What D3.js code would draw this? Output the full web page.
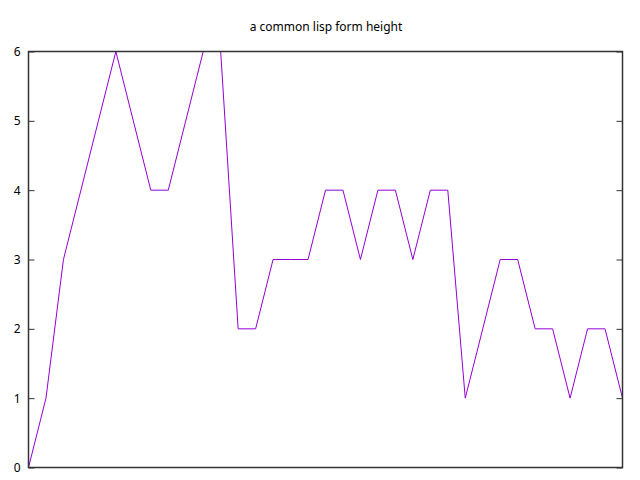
<!DOCTYPE html>
<html><head><meta charset="utf-8">
<script src="https://cdn.jsdelivr.net/npm/d3@7"></script>
<style>body{margin:0;background:#fff}svg{display:block}</style>
</head><body>
<script>
const title = "a common lisp form height";
const xIndex = d3.range(35);
const heights = [0,1,3,4,5,6,5,4,4,5,6,6,2,2,3,3,3,4,4,3,4,4,3,4,4,1,2,3,3,2,2,1,2,2,1];
const yTicks = [0,1,2,3,4,5,6];

const W = 640, H = 480;
const m = {left: 28.5, right: 622.5, top: 51.5, bottom: 467.5};
const svg = d3.select("body").append("svg").attr("width", W).attr("height", H);
const font = "'Noto Sans', 'DejaVu Sans', sans-serif";

const x = d3.scaleLinear().domain([0, xIndex.length - 1]).range([m.left, m.right]);
const y = d3.scaleLinear().domain([0, 6]).range([m.bottom, m.top]);

svg.append("text").attr("x", 326).attr("y", 31).attr("text-anchor", "middle")
  .attr("font-family", font).attr("font-size", 12).attr("fill", "#000").text(title);

// left axis
const yl = svg.append("g").attr("transform", `translate(${m.left},0)`)
  .call(d3.axisLeft(y).tickValues(yTicks).tickFormat(d3.format("d")).tickSize(-6).tickPadding(8));
yl.select(".domain").remove();
yl.selectAll("line").attr("stroke", "#333");
yl.selectAll("text").attr("font-family", font).attr("font-size", 12).attr("fill", "#000");
// right ticks
const yr = svg.append("g").attr("transform", `translate(${m.right},0)`)
  .call(d3.axisRight(y).tickValues(yTicks).tickSize(-6).tickFormat(""));
yr.select(".domain").remove();
yr.selectAll("line").attr("stroke", "#333");

const line = d3.line().x((d, i) => x(xIndex[i])).y(d => y(d));
svg.append("path").datum(heights).attr("d", line)
  .attr("fill", "none").attr("stroke", "#9400D3").attr("stroke-width", 1);

svg.append("rect").attr("x", m.left).attr("y", m.top)
  .attr("width", m.right - m.left).attr("height", m.bottom - m.top)
  .attr("fill", "none").attr("stroke", "#333").attr("stroke-width", 1.5);
</script>
</body></html>
